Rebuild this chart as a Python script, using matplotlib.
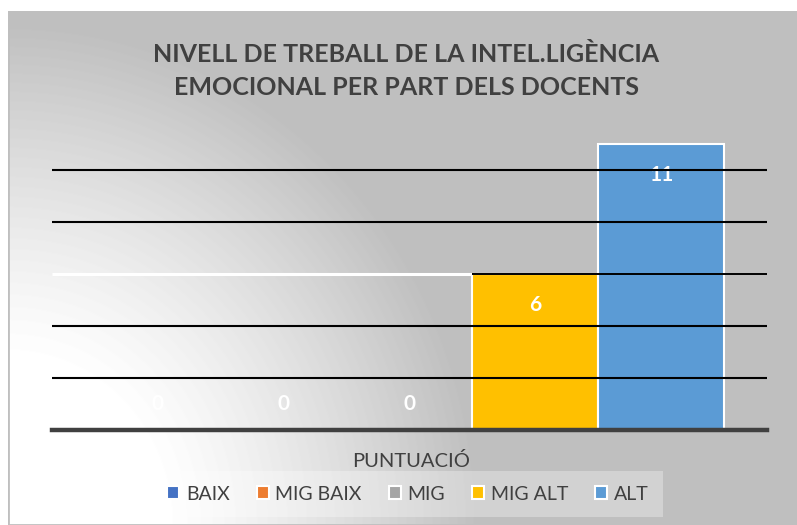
import matplotlib.pyplot as plt
import numpy as np
from matplotlib.patches import Rectangle

# data
series = ["BAIX", "MIG BAIX", "MIG", "MIG ALT", "ALT"]
values = [0, 0, 0, 6, 11]
colors = ["#4472C4", "#ED7D31", "#A5A5A5", "#FFC000", "#5B9BD5"]
title = "NIVELL DE TREBALL DE LA INTEL.LIGÈNCIA\nEMOCIONAL PER PART DELS DOCENTS"
xlabel = "PUNTUACIÓ"
gridvals = [2, 4, 6, 8, 10]

plt.rcParams['font.family'] = ['Lato', 'DejaVu Sans']

W, H = 797, 525
fig = plt.figure(figsize=(W / 100, H / 100), dpi=100)
fig.patch.set_facecolor("white")

# gradient background of the chart area (light corner at bottom left)
bg = fig.add_axes([8 / W, 0, 1 - 8 / W, 514 / H])
bg.set_axis_off()
yy, xx = np.mgrid[0:514, 0:789]
r = np.sqrt((xx / 470.0) ** 2 + ((514 - yy) / 500.0) ** 2)
t = np.clip((r - 0.33) / 0.67, 0, 1) ** 1.2
shade = 1.0 - 0.25 * t
bg.imshow(shade, cmap="gray", vmin=0, vmax=1, aspect="auto",
          extent=[0, 1, 0, 1], origin="upper")
bg.add_patch(Rectangle((0, 0), 1, 1, transform=bg.transAxes, fill=False,
                       edgecolor="#bfbfbf", linewidth=2))
bg.set_xlim(0, 1)
bg.set_ylim(0, 1)

ax = fig.add_axes([52 / W, 95 / H, 715 / W, 312 / H])
ax.patch.set_alpha(0)
x = np.arange(len(series))
for i, (s, v, c) in enumerate(zip(series, values, colors)):
    ax.bar(x[i], v, width=1.0, color=c, edgecolor="white",
           linewidth=1.5, label=s, zorder=2)

for i, v in enumerate(values):
    off = 19 if v == 0 else -22
    ax.annotate(str(v), (x[i], v), xytext=(0, off), textcoords="offset points",
                ha="center", va="center", color="white", fontsize=15,
                fontweight="bold", zorder=3)

edge = x[3] - 0.5
for g in gridvals:
    if g == 6:
        ax.hlines(g, -0.84, edge, color="white", linewidth=2.2, zorder=4)
        ax.hlines(g, edge, 4.84, color="black", linewidth=1.4, zorder=4)
    else:
        ax.axhline(g, color="black", linewidth=1.5, zorder=4)
ax.axhline(0, color="#404040", linewidth=3.2, zorder=5, clip_on=False)

ax.set_xlim(-0.84, 4.84)
ax.set_ylim(0, 12)
for sp in ax.spines.values():
    sp.set_visible(False)
ax.set_xticks([])
ax.set_yticks([])

fig.text(406 / W, 1 - 71 / H, title, ha="center", va="center", fontsize=18,
         fontweight="bold", color="#404040", linespacing=1.55)
fig.text(411 / W, 1 - 461 / H, xlabel, ha="center", va="center",
         fontsize=14.5, color="#404040")

leg = fig.legend(loc="center", bbox_to_anchor=(408 / W, 1 - 494 / H), ncol=5,
                 frameon=True, fontsize=14, handlelength=0.6, handleheight=0.6,
                 handletextpad=0.35, columnspacing=1.4, borderpad=0.75)
leg.get_frame().set_facecolor("white")
leg.get_frame().set_alpha(0.3)
leg.get_frame().set_edgecolor("none")
leg.get_frame().set_boxstyle("square", pad=0)
for t in leg.get_texts():
    t.set_color("#404040")

fig.savefig("out.png", dpi=100)
